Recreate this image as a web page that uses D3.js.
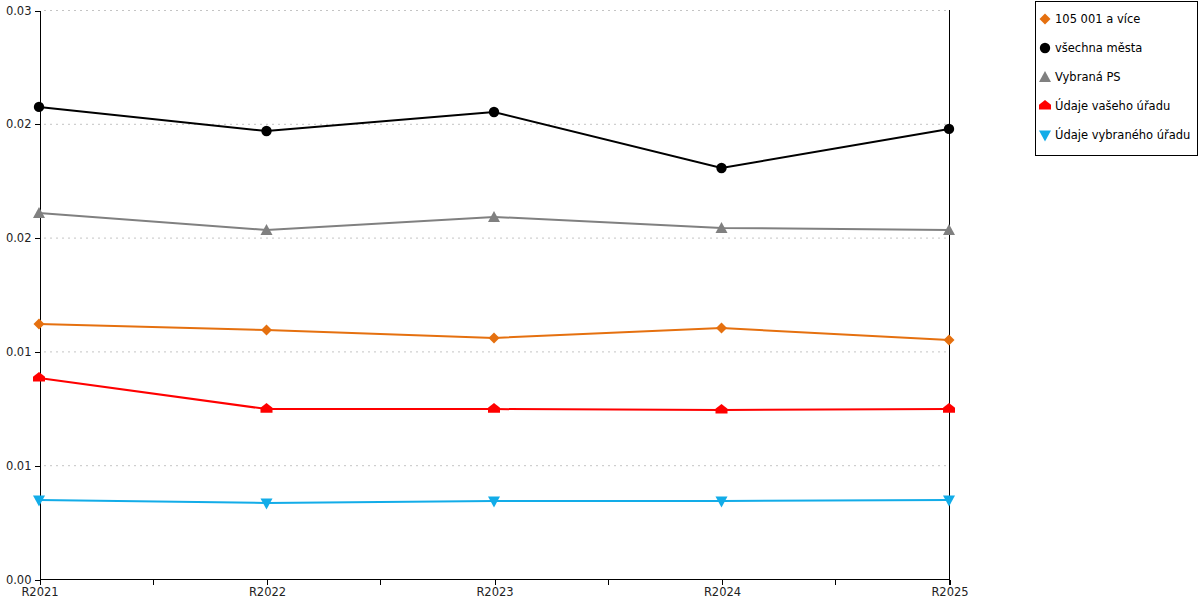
<!DOCTYPE html>
<html>
<head>
<meta charset="utf-8">
<script src="https://cdn.jsdelivr.net/npm/d3@7"></script>
<style>
  body { margin: 0; background: #fff; }
  svg { font-family: "DejaVu Sans", Verdana, sans-serif; }
</style>
</head>
<body>
<div id="chart"></div>
<script>
// Data
const years = ["R2021", "R2022", "R2023", "R2024", "R2025"];
const yTicks = [0, 0.006, 0.012, 0.018, 0.024, 0.03];

const seriesNames = ["105 001 a více", "všechna města", "Vybraná PS", "Údaje vašeho úřadu", "Údaje vybraného úřadu"];
const seriesColors = ["#e5700f", "#000000", "#808080", "#ff0000", "#12ace8"];
const seriesShapes = ["diamond", "circle", "triangle", "house", "triangleDown"];

const big = [0.01344, 0.01313, 0.01271, 0.01323, 0.01260];
const allCities = [0.02489, 0.02362, 0.02462, 0.02167, 0.02373];
const selectedPS = [0.01930, 0.01840, 0.01909, 0.01851, 0.01840];
const yourOffice = [0.01060, 0.00896, 0.00896, 0.00891, 0.00896];
const selectedOffice = [0.00417, 0.00401, 0.00411, 0.00411, 0.00417];

const seriesValues = [big, allCities, selectedPS, yourOffice, selectedOffice];

const width = 1200, height = 600;
const margin = {top: 10, right: 251, bottom: 21, left: 39};

const svg = d3.select("#chart").append("svg")
  .attr("width", width)
  .attr("height", height);

// Scales
const x = d3.scalePoint()
  .domain(years)
  .range([margin.left, width - margin.right]);
const y = d3.scaleLinear()
  .domain([0, 0.03])
  .range([height - margin.bottom, margin.top]);

// Gridlines
svg.append("g")
  .selectAll("line")
  .data(yTicks.slice(1))
  .join("line")
  .attr("x1", margin.left + 5)
  .attr("x2", width - margin.right)
  .attr("y1", d => y(d) + 0.5)
  .attr("y2", d => y(d) + 0.5)
  .attr("stroke", "#c4c4c4")
  .attr("stroke-dasharray", "2,4");

// Right border line
svg.append("line")
  .attr("x1", width - margin.right + 0.5)
  .attr("x2", width - margin.right + 0.5)
  .attr("y1", margin.top)
  .attr("y2", height - margin.bottom + 6)
  .attr("stroke", "#000")
  .attr("shape-rendering", "crispEdges");

// Y axis
const yAxis = svg.append("g")
  .attr("transform", `translate(${margin.left + 0.5},0.5)`)
  .call(d3.axisLeft(y).tickValues(yTicks).tickFormat(d3.format(".2f")).tickSize(5).tickSizeOuter(0));
yAxis.selectAll("text").attr("font-size", 11.5).attr("fill", "#222").attr("font-family", "DejaVu Sans");
yAxis.selectAll("path, line").attr("stroke", "#000").attr("shape-rendering", "crispEdges");

// X axis with minor ticks between categories
const xAxis = svg.append("g")
  .attr("transform", `translate(0.5,${height - margin.bottom + 0.5})`)
  .call(d3.axisBottom(x).tickSize(5).tickSizeOuter(0).tickPadding(3));
xAxis.selectAll("text").attr("font-size", 11.5).attr("fill", "#222").attr("font-family", "DejaVu Sans");
xAxis.select(".domain").attr("d", `M${margin.left},0H${width - margin.right}`);

const mids = years.slice(1).map((d, i) => (x(years[i]) + x(d)) / 2);
xAxis.selectAll(".minor")
  .data(mids)
  .join("line")
  .attr("class", "minor")
  .attr("x1", d => Math.round(d))
  .attr("x2", d => Math.round(d))
  .attr("y1", 0)
  .attr("y2", 5);
xAxis.selectAll("path, line").attr("stroke", "#000").attr("shape-rendering", "crispEdges");

// Marker shapes
const housePath = s => `M0,${-s}L${s},${-s * 0.2}L${s},${s * 0.6}L${-s},${s * 0.6}L${-s},${-s * 0.2}Z`;
function markerPath(shape) {
  switch (shape) {
    case "diamond": return "M0,-5.5L5.5,0L0,5.5L-5.5,0Z";
    case "circle": return d3.symbol(d3.symbolCircle, 85)();
    case "triangle": return "M0,-6L6,5L-6,5Z";
    case "triangleDown": return "M-6,-4.5L6,-4.5L0,6.5Z";
    case "house": return housePath(6);
  }
}

const line = d3.line()
  .x((d, i) => x(years[i]))
  .y(d => y(d));

// Lines and markers
seriesValues.forEach((vals, si) => {
  const g = svg.append("g");
  g.append("path")
    .datum(vals)
    .attr("fill", "none")
    .attr("stroke", seriesColors[si])
    .attr("stroke-width", 2)
    .attr("d", line);
  g.selectAll("path.marker")
    .data(vals)
    .join("path")
    .attr("class", "marker")
    .attr("transform", (d, i) => `translate(${x(years[i])},${y(d)})`)
    .attr("d", markerPath(seriesShapes[si]))
    .attr("fill", seriesColors[si]);
});

// Legend
const legend = svg.append("g");
legend.append("rect")
  .attr("x", 1035.5)
  .attr("y", 1.5)
  .attr("width", 162)
  .attr("height", 154)
  .attr("fill", "#fff")
  .attr("stroke", "#000")
  .attr("shape-rendering", "crispEdges");

seriesNames.forEach((name, i) => {
  const ly = 19 + i * 29;
  legend.append("path")
    .attr("transform", `translate(1045,${ly})`)
    .attr("d", markerPath(seriesShapes[i]))
    .attr("fill", seriesColors[i]);
  legend.append("text")
    .attr("x", 1055)
    .attr("y", ly + 4)
    .attr("font-size", 11.5)
    .attr("fill", "#000")
    .text(name);
});
</script>
</body>
</html>
